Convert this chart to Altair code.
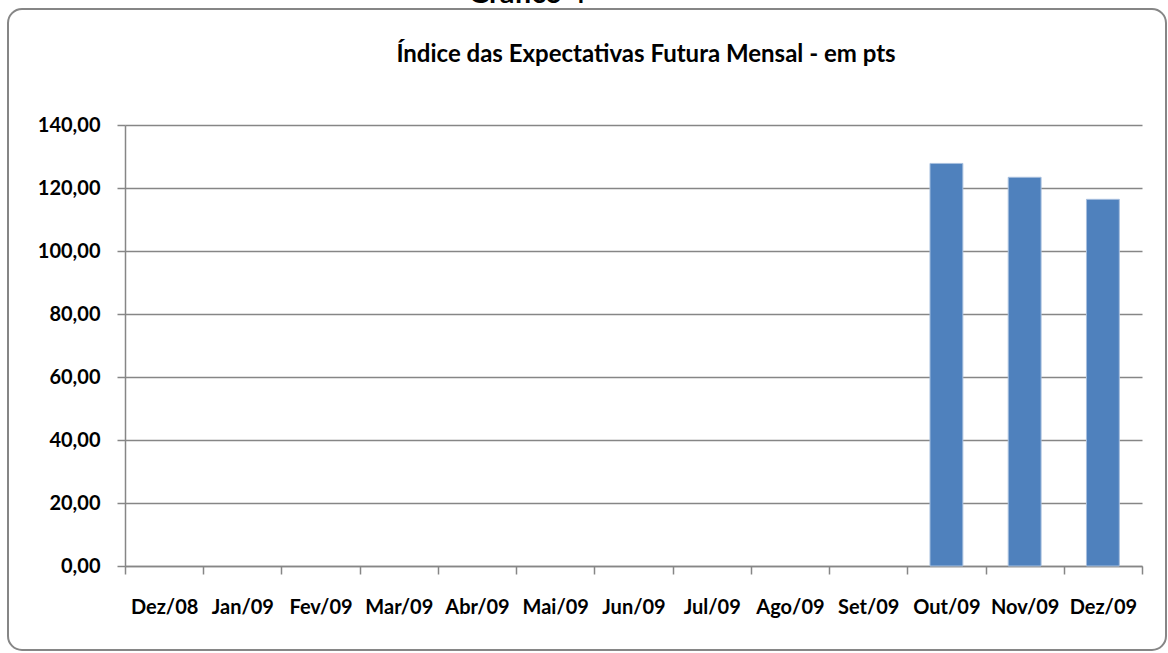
import altair as alt
import pandas as pd

months = ["Dez/08", "Jan/09", "Fev/09", "Mar/09", "Abr/09", "Mai/09", "Jun/09",
          "Jul/09", "Ago/09", "Set/09", "Out/09", "Nov/09", "Dez/09"]
values = [None, None, None, None, None, None, None, None, None, None, 127.8, 123.4, 116.4]
y_ticks = [0, 20, 40, 60, 80, 100, 120, 140]

df = pd.DataFrame({"mes": months, "valor": values})

W, H = 1017, 441
PL, PT, PR, PB = 125, 125, 26, 87
FONT = "Lato"

base = alt.Chart(df)

bars = base.mark_bar(color="#4F81BD", stroke="#A7BFDE", strokeWidth=1, width={"band": 0.42}).encode(
    x=alt.X("mes:N", sort=months, scale=alt.Scale(paddingInner=0, paddingOuter=0),
            axis=alt.Axis(title=None, labelAngle=0, labelFont=FONT, labelFontSize=20,
                          labelFontWeight="bold", labelColor="#000000", labelPadding=23,
                          domainColor="#868686", domainWidth=1.5, tickColor="#868686",
                          tickSize=8, tickWidth=1.5, tickBand="extent", grid=False)),
    y=alt.Y("valor:Q", scale=alt.Scale(domain=[0, 140], nice=False),
            axis=alt.Axis(title=None, values=y_ticks,
                          labelExpr="replace(format(datum.value, '.2f'), '.', ',')",
                          labelFont=FONT, labelFontSize=20, labelFontWeight="bold",
                          labelColor="#000000", labelPadding=17,
                          domainColor="#868686", domainWidth=1.5, tickColor="#868686",
                          tickSize=8, tickWidth=1.5, gridColor="#868686", gridWidth=1.5)),
)

frame = alt.Chart(pd.DataFrame({"a": [0]})).mark_rect(
    fill=None, stroke="#868686", strokeWidth=2, cornerRadius=14
).encode(x=alt.value(8 - PL), x2=alt.value(1166 - PL), y=alt.value(9 - PT), y2=alt.value(650 - PT))

title = alt.Chart(pd.DataFrame({"t": ["Índice das Expectativas Futura Mensal - em pts"]})).mark_text(
    font=FONT, fontSize=24, fontWeight="bold", color="#000000", align="center", baseline="middle"
).encode(text="t:N", x=alt.value(646 - PL), y=alt.value(55 - PT))

sup = alt.Chart(pd.DataFrame({"t": ["Gráfico 4"]})).mark_text(
    font=FONT, fontSize=29, fontWeight="bold", color="#000000", align="center", baseline="alphabetic"
).encode(text="t:N", x=alt.value(527 - PL), y=alt.value(3 - PT))

chart = alt.layer(frame, bars, title, sup).properties(
    width=W, height=H,
    autosize=alt.AutoSizeParams(type="none"),
    padding={"left": PL, "top": PT, "right": PR, "bottom": PB},
    background="#FFFFFF",
).configure_view(stroke=None)

chart.save("out.html", embed_options={"renderer": "svg", "actions": False})
